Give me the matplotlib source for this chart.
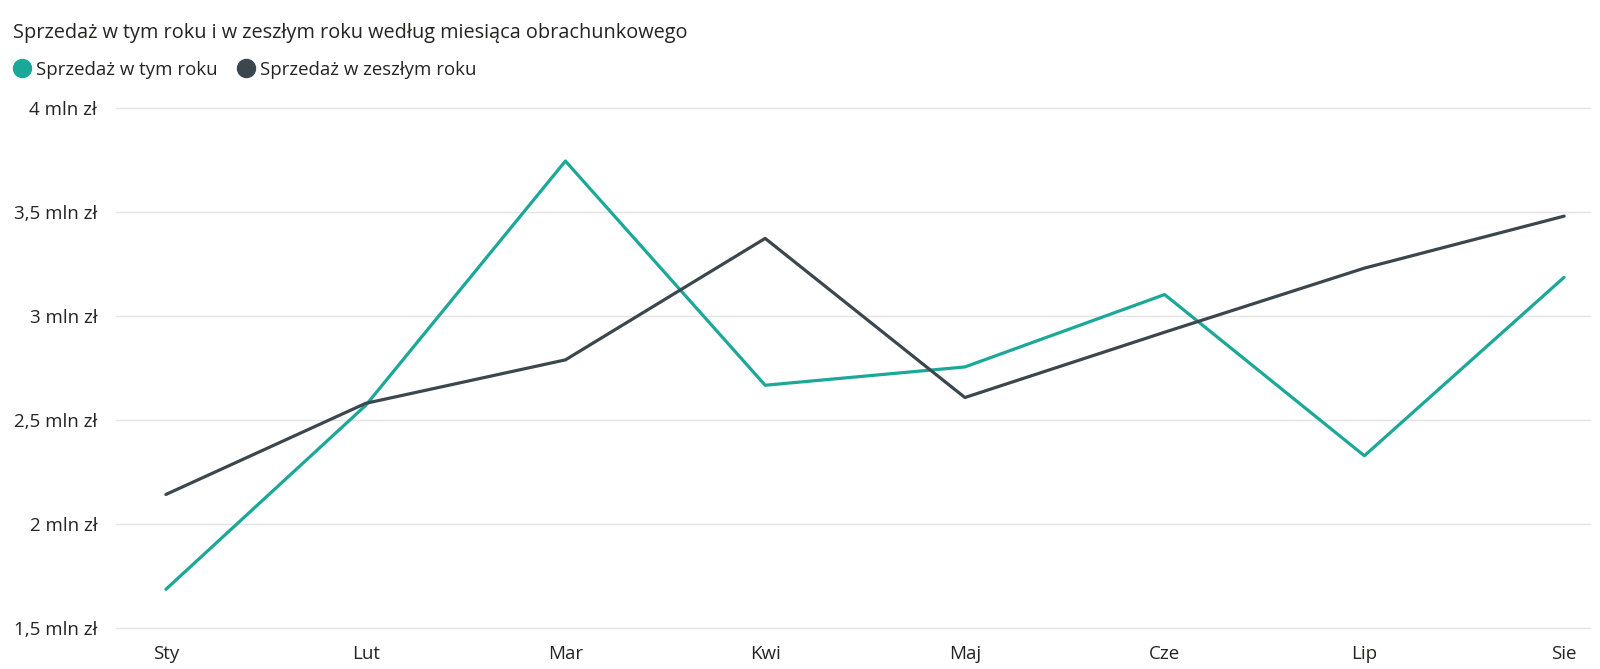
import numpy as np
import matplotlib.pyplot as plt
from matplotlib.lines import Line2D

plt.rcParams['font.family'] = ['Open Sans', 'DejaVu Sans']

months = ['Sty', 'Lut', 'Mar', 'Kwi', 'Maj', 'Cze', 'Lip', 'Sie']
this_year = [1.686, 2.57, 3.745, 2.667, 2.755, 3.103, 2.328, 3.186]
last_year = [2.142, 2.58, 2.789, 3.373, 2.608, 2.922, 3.230, 3.48]
y_ticks = [1.5, 2.0, 2.5, 3.0, 3.5, 4.0]
y_labels = ['1,5 mln zł', '2 mln zł', '2,5 mln zł', '3 mln zł', '3,5 mln zł', '4 mln zł']

teal = '#1BA898'
dark = '#3C474D'
text_col = '#252423'

fig = plt.figure(figsize=(16, 6.69), dpi=100)
ax = fig.add_axes([0.0725, 0.0613, 0.9213, 0.7773])

x = np.arange(len(months))
ax.plot(x, this_year, color=teal, lw=2.3, solid_capstyle='round', zorder=3)
ax.plot(x, last_year, color=dark, lw=2.3, solid_capstyle='round', zorder=3)

ax.set_xlim(-0.25, 7.13)
ax.set_ylim(1.5, 4.0)
ax.set_yticks(y_ticks)
ax.set_yticklabels(y_labels)
ax.set_xticks(x)
ax.set_xticklabels(months)
ax.tick_params(axis='both', length=0, labelsize=13.5, colors=text_col)
ax.tick_params(axis='x', pad=12)
ax.tick_params(axis='y', pad=13.5)
ax.grid(axis='y', color='#E4E4E4', lw=1)
# keep the edge gridlines (1,5 and 4) fully visible
for gl in ax.get_ygridlines():
    gl.set_clip_on(False)
ax.set_axisbelow(True)
for s in ax.spines.values():
    s.set_visible(False)

fig.text(0.008, 1 - 33 / 669, 'Sprzedaż w tym roku i w zeszłym roku według miesiąca obrachunkowego',
         fontsize=14.3, color=text_col, va='center', ha='left')

handles = [Line2D([], [], marker='o', ls='none', color=teal, markersize=13),
           Line2D([], [], marker='o', ls='none', color=dark, markersize=13)]
fig.legend(handles, ['Sprzedaż w tym roku', 'Sprzedaż w zeszłym roku'],
           loc='center left', bbox_to_anchor=(0.008, 1 - 70 / 669), ncol=2, frameon=False,
           fontsize=13.4, handletextpad=0.25, columnspacing=1.0, handlelength=1.0,
           borderpad=0, borderaxespad=0, labelcolor=text_col)

fig.savefig('out.png', dpi=100, facecolor='white')
